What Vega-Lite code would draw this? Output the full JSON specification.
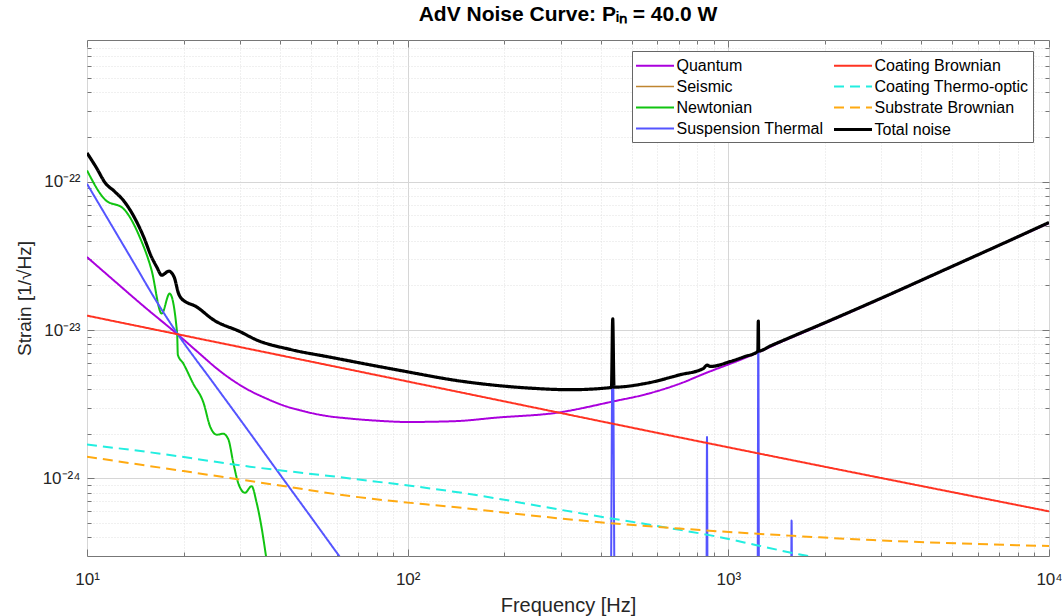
{
"$schema": "https://vega.github.io/schema/vega-lite/v6.json",
"width": 962, "height": 516,
"autosize": {"type": "none"},
"padding": {"left": 87, "top": 40, "right": 13, "bottom": 60},
"background": "white",
"title": {"text": "AdV Noise Curve: Pᵢₙ = 40.0 W", "font": "Liberation Sans", "fontSize": 21, "fontWeight": "bold", "anchor": "middle", "offset": 14, "color": "black"},
"config": {"view": {"stroke": "#777", "strokeWidth": 1},
 "legend": {"title": null, "orient": "none", "legendX": 545, "legendY": 11, "columns": 2, "symbolType": "M-2,0H2", "symbolSize": 361, "symbolOffset": 7.5, "labelFont": "Liberation Sans", "labelFontSize": 16, "labelColor": "black", "labelLimit": 300, "strokeColor": "#666", "fillColor": "white", "padding": 4, "rowPadding": 2, "columnPadding": 3, "labelOffset": 10}},
"datasets": {"noise": [
{"series":"Quantum","f":10,"s":3.1e-23},{"series":"Quantum","f":12,"s":2.2e-23},{"series":"Quantum","f":15,"s":1.45e-23},{"series":"Quantum","f":19.1,"s":9.4e-24},{"series":"Quantum","f":22.5,"s":6.9e-24},{"series":"Quantum","f":25.4,"s":5.5e-24},{"series":"Quantum","f":28.6,"s":4.55e-24},{"series":"Quantum","f":32.2,"s":3.9e-24},{"series":"Quantum","f":36.3,"s":3.45e-24},{"series":"Quantum","f":41,"s":3.1e-24},{"series":"Quantum","f":46.1,"s":2.88e-24},{"series":"Quantum","f":55,"s":2.65e-24},{"series":"Quantum","f":66.1,"s":2.53e-24},{"series":"Quantum","f":80,"s":2.45e-24},{"series":"Quantum","f":100,"s":2.4e-24},{"series":"Quantum","f":140,"s":2.43e-24},{"series":"Quantum","f":190,"s":2.57e-24},{"series":"Quantum","f":292,"s":2.77e-24},{"series":"Quantum","f":437,"s":3.3e-24},{"series":"Quantum","f":556,"s":3.7e-24},{"series":"Quantum","f":706,"s":4.35e-24},{"series":"Quantum","f":855,"s":5.15e-24},{"series":"Quantum","f":1050,"s":6.1e-24},{"series":"Quantum","f":1236,"s":7.05e-24},{"series":"Quantum","f":1450,"s":8.25e-24},{"series":"Quantum","f":1671,"s":9.4e-24},{"series":"Quantum","f":2000,"s":1.11e-23},{"series":"Quantum","f":3000,"s":1.63e-23},{"series":"Quantum","f":5000,"s":2.68e-23},{"series":"Quantum","f":7000,"s":3.72e-23},{"series":"Quantum","f":10000,"s":5.25e-23},
{"series":"Newtonian","f":10,"s":1.19e-22},{"series":"Newtonian","f":11.4,"s":7.54e-23},{"series":"Newtonian","f":13.0,"s":6.56e-23},{"series":"Newtonian","f":14.6,"s":4.23e-23},{"series":"Newtonian","f":15.9,"s":2.53e-23},{"series":"Newtonian","f":17.1,"s":1.29e-23},{"series":"Newtonian","f":18.1,"s":1.76e-23},{"series":"Newtonian","f":19.1,"s":9.5e-24},{"series":"Newtonian","f":19.2,"s":6.8e-24},{"series":"Newtonian","f":19.95,"s":5.97e-24},{"series":"Newtonian","f":21.4,"s":4.38e-24},{"series":"Newtonian","f":23.1,"s":3.22e-24},{"series":"Newtonian","f":24.2,"s":2.24e-24},{"series":"Newtonian","f":25.4,"s":1.97e-24},{"series":"Newtonian","f":26.6,"s":2.0e-24},{"series":"Newtonian","f":27.6,"s":1.83e-24},{"series":"Newtonian","f":28.6,"s":1.27e-24},{"series":"Newtonian","f":29.6,"s":9.35e-25},{"series":"Newtonian","f":31.1,"s":8.0e-25},{"series":"Newtonian","f":32.6,"s":8.87e-25},{"series":"Newtonian","f":33.8,"s":6.87e-25},{"series":"Newtonian","f":35.1,"s":4.55e-25},{"series":"Newtonian","f":36.2,"s":2.95e-25},{"series":"Newtonian","f":37.5,"s":1.8e-25},{"series":"Newtonian","f":40,"s":7e-26},
{"series":"Suspension Thermal","f":10,"s":9.66e-23},{"series":"Suspension Thermal","f":12,"s":4.97e-23},{"series":"Suspension Thermal","f":14,"s":2.83e-23},{"series":"Suspension Thermal","f":16.5,"s":1.55e-23},{"series":"Suspension Thermal","f":18.8,"s":1.0e-23},{"series":"Suspension Thermal","f":25,"s":4.28e-24},{"series":"Suspension Thermal","f":30,"s":2.5e-24},{"series":"Suspension Thermal","f":40,"s":1.06e-24},{"series":"Suspension Thermal","f":50,"s":5.47e-25},{"series":"Suspension Thermal","f":61.5,"s":2.95e-25},{"series":"Suspension Thermal","f":80,"s":1.35e-25},{"series":"Suspension Thermal","f":100,"s":6.9e-26},{"series":"Suspension Thermal","f":200,"s":8.7e-27},{"series":"Suspension Thermal","f":300,"s":2.6e-27},{"series":"Suspension Thermal","f":425,"s":9e-28},{"series":"Suspension Thermal","f":431,"s":2.6e-25},{"series":"Suspension Thermal","f":436,"s":1.15e-23},{"series":"Suspension Thermal","f":441,"s":2.6e-25},{"series":"Suspension Thermal","f":450,"s":8e-28},{"series":"Suspension Thermal","f":700,"s":2e-28},{"series":"Suspension Thermal","f":850,"s":1.1e-28},{"series":"Suspension Thermal","f":855.5,"s":2.8e-25},{"series":"Suspension Thermal","f":858,"s":1.9e-24},{"series":"Suspension Thermal","f":860.5,"s":2.8e-25},{"series":"Suspension Thermal","f":870,"s":1e-28},{"series":"Suspension Thermal","f":1200,"s":4e-29},{"series":"Suspension Thermal","f":1235,"s":2.8e-25},{"series":"Suspension Thermal","f":1240,"s":1.12e-23},{"series":"Suspension Thermal","f":1245,"s":2.8e-25},{"series":"Suspension Thermal","f":1255,"s":3.5e-29},{"series":"Suspension Thermal","f":1560,"s":1.6e-29},{"series":"Suspension Thermal","f":1572,"s":2.8e-25},{"series":"Suspension Thermal","f":1575,"s":5.2e-25},{"series":"Suspension Thermal","f":1578,"s":2.8e-25},{"series":"Suspension Thermal","f":1590,"s":1.5e-29},{"series":"Suspension Thermal","f":10000,"s":6e-32},
{"series":"Coating Brownian","f":10,"s":1.25e-23},{"series":"Coating Brownian","f":100,"s":4.5e-24},{"series":"Coating Brownian","f":1000,"s":1.62e-24},{"series":"Coating Brownian","f":10000,"s":6.0e-25},
{"series":"Coating Thermo-optic","f":10,"s":1.69e-24},{"series":"Coating Thermo-optic","f":15.7,"s":1.5e-24},{"series":"Coating Thermo-optic","f":32.2,"s":1.2e-24},{"series":"Coating Thermo-optic","f":66.1,"s":1.0e-24},{"series":"Coating Thermo-optic","f":150,"s":7.95e-25},{"series":"Coating Thermo-optic","f":361,"s":5.73e-25},{"series":"Coating Thermo-optic","f":706,"s":4.5e-25},{"series":"Coating Thermo-optic","f":898,"s":4.1e-25},{"series":"Coating Thermo-optic","f":1225,"s":3.55e-25},{"series":"Coating Thermo-optic","f":1556,"s":3.17e-25},{"series":"Coating Thermo-optic","f":1795,"s":2.98e-25},{"series":"Coating Thermo-optic","f":3000,"s":2.2e-25},{"series":"Coating Thermo-optic","f":10000,"s":8e-26},
{"series":"Substrate Brownian","f":10,"s":1.4e-24},{"series":"Substrate Brownian","f":20,"s":1.12e-24},{"series":"Substrate Brownian","f":40,"s":8.95e-25},{"series":"Substrate Brownian","f":66.1,"s":7.6e-25},{"series":"Substrate Brownian","f":150,"s":6.31e-25},{"series":"Substrate Brownian","f":361,"s":5.16e-25},{"series":"Substrate Brownian","f":706,"s":4.59e-25},{"series":"Substrate Brownian","f":1592,"s":4.1e-25},{"series":"Substrate Brownian","f":2825,"s":3.84e-25},{"series":"Substrate Brownian","f":10000,"s":3.5e-25},
{"series":"Total noise","f":10,"s":1.56e-22},{"series":"Total noise","f":10.7,"s":1.24e-22},{"series":"Total noise","f":11.4,"s":9.8e-23},{"series":"Total noise","f":12.2,"s":8.57e-23},{"series":"Total noise","f":13.0,"s":7.45e-23},{"series":"Total noise","f":14.0,"s":5.82e-23},{"series":"Total noise","f":15.0,"s":4.27e-23},{"series":"Total noise","f":15.9,"s":3.1e-23},{"series":"Total noise","f":16.5,"s":2.66e-23},{"series":"Total noise","f":17.1,"s":2.34e-23},{"series":"Total noise","f":18.0,"s":2.49e-23},{"series":"Total noise","f":18.7,"s":2.27e-23},{"series":"Total noise","f":19.3,"s":1.76e-23},{"series":"Total noise","f":19.7,"s":1.63e-23},{"series":"Total noise","f":22.0,"s":1.43e-23},{"series":"Total noise","f":24.8,"s":1.17e-23},{"series":"Total noise","f":30.0,"s":9.75e-24},{"series":"Total noise","f":33.8,"s":8.57e-24},{"series":"Total noise","f":43,"s":7.4e-24},{"series":"Total noise","f":57.3,"s":6.56e-24},{"series":"Total noise","f":92.5,"s":5.39e-24},{"series":"Total noise","f":149,"s":4.5e-24},{"series":"Total noise","f":240,"s":4.06e-24},{"series":"Total noise","f":321,"s":3.96e-24},{"series":"Total noise","f":432,"s":4.1e-24},{"series":"Total noise","f":436,"s":1.19e-23},{"series":"Total noise","f":440,"s":4.12e-24},{"series":"Total noise","f":556,"s":4.38e-24},{"series":"Total noise","f":706,"s":4.99e-24},{"series":"Total noise","f":835,"s":5.5e-24},{"series":"Total noise","f":858,"s":5.8e-24},{"series":"Total noise","f":880,"s":5.68e-24},{"series":"Total noise","f":1011,"s":6.12e-24},{"series":"Total noise","f":1120,"s":6.6e-24},{"series":"Total noise","f":1236,"s":7.18e-24},{"series":"Total noise","f":1240,"s":1.15e-23},{"series":"Total noise","f":1244,"s":7.22e-24},{"series":"Total noise","f":1350,"s":7.8e-24},{"series":"Total noise","f":1500,"s":8.6e-24},{"series":"Total noise","f":1671,"s":9.5e-24},{"series":"Total noise","f":2000,"s":1.12e-23},{"series":"Total noise","f":3000,"s":1.64e-23},{"series":"Total noise","f":5000,"s":2.69e-23},{"series":"Total noise","f":7000,"s":3.73e-23},{"series":"Total noise","f":10000,"s":5.3e-23}
]},
"data": {"name": "noise"},
"layer": [
{
"transform": [{"filter": "datum.series != 'Total noise'"}],
"mark": {"type": "line", "clip": true, "strokeJoin": "round", "interpolate": "monotone"},
"encoding": {
"x": {"field": "f", "type": "quantitative", "scale": {"type": "log", "domain": [10, 10000], "nice": false},
 "axis": {"orient": "bottom", "values": [10,20,30,40,50,60,70,80,90,100,200,300,400,500,600,700,800,900,1000,2000,3000,4000,5000,6000,7000,8000,9000,10000],
  "labelExpr": "datum.value==10?'10¹':datum.value==100?'10²':datum.value==1000?'10³':datum.value==10000?'10⁴':''",
  "labelFlush": false, "labelOverlap": false, "labelFont": "Liberation Sans", "labelFontSize": 17, "labelColor": "#262626", "labelPadding": 22,
  "grid": true,
  "gridColor": {"condition": {"test": "indexof([10,100,1000,10000], datum.value) >= 0", "value": "#D6D6D6"}, "value": "#E0E0E0"},
  "gridDash": {"condition": {"test": "indexof([10,100,1000,10000], datum.value) >= 0", "value": []}, "value": [1, 2]},
  "tickSize": {"condition": {"test": "indexof([10,100,1000,10000], datum.value) >= 0", "value": -7}, "value": -4},
  "tickColor": "#777", "domain": false,
  "title": "Frequency [Hz]", "titleFont": "Liberation Sans", "titleFontSize": 20, "titleFontWeight": "normal", "titleColor": "#262626", "titlePadding": 5}},
"y": {"field": "s", "type": "quantitative", "scale": {"type": "log", "domain": [3e-25, 9e-22], "nice": false},
 "axis": {"orient": "left", "values": [4e-25,5e-25,6e-25,7e-25,8e-25,9e-25,1e-24,2e-24,3e-24,4e-24,5e-24,6e-24,7e-24,8e-24,9e-24,1e-23,2e-23,3e-23,4e-23,5e-23,6e-23,7e-23,8e-23,9e-23,1e-22,2e-22,3e-22,4e-22,5e-22,6e-22,7e-22,8e-22],
  "labelExpr": "datum.value>9.5e-23 && datum.value<1.05e-22 ? '10⁻²²' : datum.value>9.5e-24 && datum.value<1.05e-23 ? '10⁻²³' : datum.value>9.5e-25 && datum.value<1.05e-24 ? '10⁻²⁴' : ''",
  "labelOverlap": false, "labelFont": "Liberation Sans", "labelFontSize": 17, "labelColor": "#262626", "labelPadding": 14,
  "grid": true,
  "gridColor": {"condition": {"test": "abs(log(datum.value)/LN10 - round(log(datum.value)/LN10)) < 0.001", "value": "#D6D6D6"}, "value": "#E0E0E0"},
  "gridDash": {"condition": {"test": "abs(log(datum.value)/LN10 - round(log(datum.value)/LN10)) < 0.001", "value": []}, "value": [1, 2]},
  "tickSize": {"condition": {"test": "abs(log(datum.value)/LN10 - round(log(datum.value)/LN10)) < 0.001", "value": -7}, "value": -4},
  "tickColor": "#777", "domain": false,
  "title": "Strain [1/√Hz]", "titleFont": "Liberation Sans", "titleFontSize": 19, "titleFontWeight": "normal", "titleColor": "#262626", "titlePadding": 8}},
"color": {"field": "series", "type": "nominal",
 "scale": {"domain": ["Quantum","Seismic","Newtonian","Suspension Thermal","Coating Brownian","Coating Thermo-optic","Substrate Brownian","Total noise"],
  "range": ["#AA00DD","#BF8530","#11C411","#5555FF","#FF3322","#22EEE0","#FFAA11","#000000"]},
 "legend": {"title": null}},
"strokeDash": {"field": "series", "type": "nominal",
 "scale": {"domain": ["Quantum","Seismic","Newtonian","Suspension Thermal","Coating Brownian","Coating Thermo-optic","Substrate Brownian","Total noise"],
  "range": [[1,0],[1,0],[1,0],[1,0],[1,0],[10,6],[10,6],[1,0]]},
 "legend": {"title": null}},
"strokeWidth": {"field": "series", "type": "nominal",
 "scale": {"type": "ordinal", "domain": ["Quantum","Seismic","Newtonian","Suspension Thermal","Coating Brownian","Coating Thermo-optic","Substrate Brownian","Total noise"],
  "range": [2,1.3,2,2,2,2,2,3.2]},
 "legend": {"title": null}}
}
},
{
"transform": [{"filter": "datum.series == 'Total noise'"}],
"mark": {"type": "line", "clip": true, "strokeJoin": "round", "interpolate": "monotone"},
"encoding": {
"x": {"field": "f", "type": "quantitative", "scale": {"type": "log", "domain": [10, 10000], "nice": false},
 "axis": {"orient": "top", "values": [10,20,30,40,50,60,70,80,90,100,200,300,400,500,600,700,800,900,1000,2000,3000,4000,5000,6000,7000,8000,9000,10000],
  "labels": false, "grid": false, "domain": false, "title": null, "tickColor": "#777",
  "tickSize": {"condition": {"test": "indexof([10,100,1000,10000], datum.value) >= 0", "value": -7}, "value": -4}}},
"y": {"field": "s", "type": "quantitative", "scale": {"type": "log", "domain": [3e-25, 9e-22], "nice": false},
 "axis": {"orient": "right", "values": [4e-25,5e-25,6e-25,7e-25,8e-25,9e-25,1e-24,2e-24,3e-24,4e-24,5e-24,6e-24,7e-24,8e-24,9e-24,1e-23,2e-23,3e-23,4e-23,5e-23,6e-23,7e-23,8e-23,9e-23,1e-22,2e-22,3e-22,4e-22,5e-22,6e-22,7e-22,8e-22],
  "labels": false, "grid": false, "domain": false, "title": null, "tickColor": "#777",
  "tickSize": {"condition": {"test": "abs(log(datum.value)/LN10 - round(log(datum.value)/LN10)) < 0.001", "value": -7}, "value": -4}}},
"color": {"field": "series", "type": "nominal",
 "scale": {"domain": ["Quantum","Seismic","Newtonian","Suspension Thermal","Coating Brownian","Coating Thermo-optic","Substrate Brownian","Total noise"],
  "range": ["#AA00DD","#BF8530","#11C411","#5555FF","#FF3322","#22EEE0","#FFAA11","#000000"]},
 "legend": {"title": null}},
"strokeDash": {"field": "series", "type": "nominal",
 "scale": {"domain": ["Quantum","Seismic","Newtonian","Suspension Thermal","Coating Brownian","Coating Thermo-optic","Substrate Brownian","Total noise"],
  "range": [[1,0],[1,0],[1,0],[1,0],[1,0],[10,6],[10,6],[1,0]]},
 "legend": {"title": null}},
"strokeWidth": {"field": "series", "type": "nominal",
 "scale": {"type": "ordinal", "domain": ["Quantum","Seismic","Newtonian","Suspension Thermal","Coating Brownian","Coating Thermo-optic","Substrate Brownian","Total noise"],
  "range": [2,1.3,2,2,2,2,2,3.2]},
 "legend": {"title": null}}
}
}
],
"resolve": {"axis": {"x": "independent", "y": "independent"}}
}
